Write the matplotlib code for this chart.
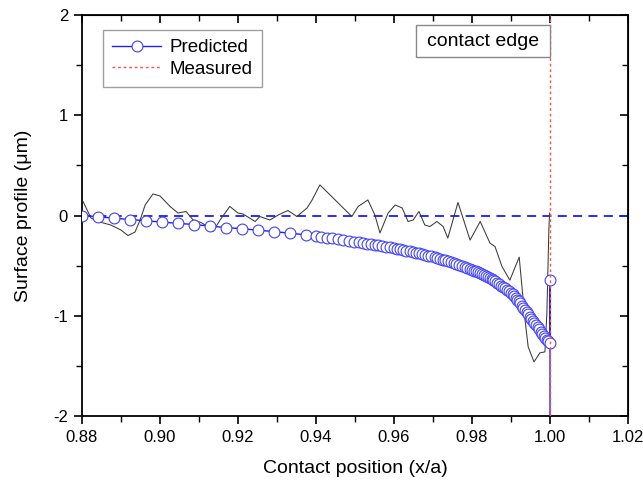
import matplotlib
matplotlib.use("Agg")
import matplotlib.pyplot as plt
from matplotlib.ticker import MultipleLocator, FormatStrFormatter
from matplotlib.patches import Rectangle

plt.rcParams['font.family'] = ['Liberation Sans', 'DejaVu Sans']

# Predicted profile (x/a, um)
pred_x = [0.8800, 0.8841, 0.8882, 0.8923, 0.8964, 0.9005, 0.9046, 0.9087, 0.9128, 0.9169,
          0.9210, 0.9251, 0.9292, 0.9333, 0.9374,
          0.9400, 0.9414, 0.9428, 0.9442, 0.9456, 0.9470, 0.9484, 0.9498,
          0.9510, 0.9520, 0.9530, 0.9540, 0.9550, 0.9560, 0.9570, 0.9580, 0.9590, 0.9600,
          0.9608, 0.9616, 0.9624, 0.9632, 0.9640, 0.9648, 0.9656, 0.9664, 0.9672, 0.9680,
          0.9688, 0.9696, 0.9704,
          0.9711, 0.9718, 0.9725, 0.9732, 0.9739, 0.9746, 0.9753, 0.9760, 0.9767, 0.9774,
          0.9781, 0.9788, 0.9794, 0.9800,
          0.9805, 0.9810, 0.9815, 0.9820, 0.9825, 0.9830, 0.9835, 0.9840, 0.9845, 0.9850,
          0.9855, 0.9860, 0.9865, 0.9870, 0.9875, 0.9880, 0.9885, 0.9890, 0.9895, 0.9900,
          0.9904, 0.9908, 0.9912, 0.9916, 0.9920, 0.9924, 0.9928, 0.9932, 0.9936, 0.9940,
          0.9944, 0.9948, 0.9952, 0.9956, 0.9960, 0.9964, 0.9968, 0.9972, 0.9976, 0.9980,
          0.9984, 0.9988, 0.9992, 0.9996, 1.0000,
          1.0000, 1.0000]
pred_y = [0.000, -0.012, -0.027, -0.040, -0.052, -0.066, -0.078, -0.090, -0.106, -0.120,
          -0.132, -0.146, -0.161, -0.176, -0.193,
          -0.205, -0.213, -0.220, -0.228, -0.236, -0.244, -0.252, -0.261,
          -0.268, -0.274, -0.280, -0.286, -0.292, -0.299, -0.305, -0.312, -0.318, -0.325,
          -0.331, -0.338, -0.344, -0.351, -0.357, -0.363, -0.370, -0.378, -0.385, -0.392,
          -0.399, -0.406, -0.415,
          -0.423, -0.432, -0.440, -0.448, -0.457, -0.465, -0.474, -0.484, -0.494, -0.504,
          -0.513, -0.523, -0.532, -0.540,
          -0.549, -0.558, -0.567, -0.576, -0.585, -0.594, -0.603, -0.612, -0.621, -0.630,
          -0.644, -0.658, -0.672, -0.686, -0.700, -0.714, -0.728, -0.742, -0.756, -0.770,
          -0.787, -0.804, -0.822, -0.839, -0.856, -0.876, -0.898, -0.920, -0.942, -0.964,
          -0.986, -1.008, -1.030, -1.050, -1.071, -1.093, -1.114, -1.136, -1.158, -1.179,
          -1.199, -1.218, -1.237, -1.256, -1.275,
          -0.640, -3.000]

# Measured surface profile trace
meas_x = [0.8803, 0.8823, 0.8846, 0.8874, 0.8900, 0.8918, 0.8936, 0.8949, 0.8962, 0.8982,
          0.9000, 0.9026, 0.9046, 0.9067, 0.9085, 0.9105, 0.9121, 0.9136, 0.9154, 0.9179,
          0.9200, 0.9213, 0.9244, 0.9256, 0.9282, 0.9303, 0.9328, 0.9351, 0.9377, 0.9390,
          0.9410, 0.9423, 0.9444, 0.9462, 0.9492, 0.9508, 0.9533, 0.9551, 0.9564, 0.9585,
          0.9603, 0.9621, 0.9636, 0.9649, 0.9664, 0.9679, 0.9692, 0.9710, 0.9726, 0.9738,
          0.9764, 0.9795, 0.9821, 0.9846, 0.9859, 0.9877, 0.9897, 0.9921, 0.9936, 0.9944,
          0.9959, 0.9974, 0.9987, 0.9992, 0.9997, 0.9999]
meas_y = [0.138, -0.025, -0.065, -0.095, -0.145, -0.200, -0.165, -0.045, 0.105, 0.215,
          0.195, 0.090, 0.025, 0.040, -0.045, -0.070, -0.105, -0.160, -0.045, 0.090,
          0.025, 0.015, -0.060, -0.010, -0.045, 0.005, 0.050, -0.010, 0.075, 0.155,
          0.305, 0.255, 0.175, 0.105, -0.010, 0.090, 0.155, 0.005, -0.175, 0.025,
          0.105, 0.075, -0.060, -0.045, 0.040, -0.095, -0.110, -0.060, -0.110, -0.225,
          0.130, -0.245, -0.060, -0.275, -0.310, -0.510, -0.645, -0.415, -1.040, -1.310,
          -1.460, -1.370, -1.360, -0.970, -0.145, 0.025]

edge_x = 1.0
ref_y = 0.0
note_text = 'contact edge'

fig = plt.figure(figsize=(6.43, 4.82), dpi=100)
ax = fig.add_axes([0.1275, 0.1369, 0.8492, 0.832])

ax.axhline(ref_y, color='#1a1aff', lw=1.3, ls=(0, (5, 3.5)), zorder=2)
ax.plot(meas_x, meas_y, color='#3a3a3a', lw=0.75, zorder=3)
ax.plot(pred_x, pred_y, color='#2020ff', lw=1.0, marker='o', ms=7.8,
        mfc='white', mec='#4040ff', mew=0.8, label='Predicted', zorder=4)
ax.axvline(edge_x, color='#ff5050', lw=1.0, ls=(0, (2, 2)), label='Measured', zorder=5)

ax.set_xlim(0.88, 1.02)
ax.set_ylim(-2, 2)
ax.xaxis.set_major_locator(MultipleLocator(0.02))
ax.xaxis.set_minor_locator(MultipleLocator(0.01))
ax.yaxis.set_major_locator(MultipleLocator(1))
ax.yaxis.set_minor_locator(MultipleLocator(0.5))
ax.xaxis.set_major_formatter(FormatStrFormatter('%.2f'))
ax.yaxis.set_major_formatter(FormatStrFormatter('%d'))
ax.tick_params(which='major', direction='out', length=6, width=1.2, labelsize=12,
               colors='black', pad=4)
ax.tick_params(which='minor', direction='out', length=4, width=1.0)
for s in ax.spines.values():
    s.set_linewidth(1.3)

secx = ax.secondary_xaxis('top')
secx.xaxis.set_major_locator(MultipleLocator(0.02))
secx.xaxis.set_minor_locator(MultipleLocator(0.01))
secx.tick_params(which='major', direction='in', length=6, width=1.2, labeltop=False)
secx.tick_params(which='minor', direction='in', length=4, width=1.0)
secy = ax.secondary_yaxis('right')
secy.yaxis.set_major_locator(MultipleLocator(1))
secy.yaxis.set_minor_locator(MultipleLocator(0.5))
secy.tick_params(which='major', direction='in', length=6, width=1.2, labelright=False)
secy.tick_params(which='minor', direction='in', length=4, width=1.0)

ax.set_xlabel('Contact position (x/a)', fontsize=14, labelpad=11)
ax.set_ylabel('Surface profile (\u03bcm)', fontsize=14, labelpad=15)

leg = ax.legend(loc='upper left', bbox_to_anchor=(0.0385, 0.9626), fontsize=13.5,
                frameon=True, fancybox=False, edgecolor='#888888', handlelength=2.6,
                handletextpad=0.45, borderpad=0.5, labelspacing=0.22, borderaxespad=0)
leg.get_frame().set_linewidth(1.0)

ax.add_patch(Rectangle((0.96564, 1.58), edge_x - 0.96564, 0.32, fc='white',
                       ec='#888888', lw=1.0, zorder=6))
ax.text(0.9828, 1.74, note_text, ha='center', va='center', fontsize=14, zorder=7)

fig.savefig('out.png', dpi=100)
